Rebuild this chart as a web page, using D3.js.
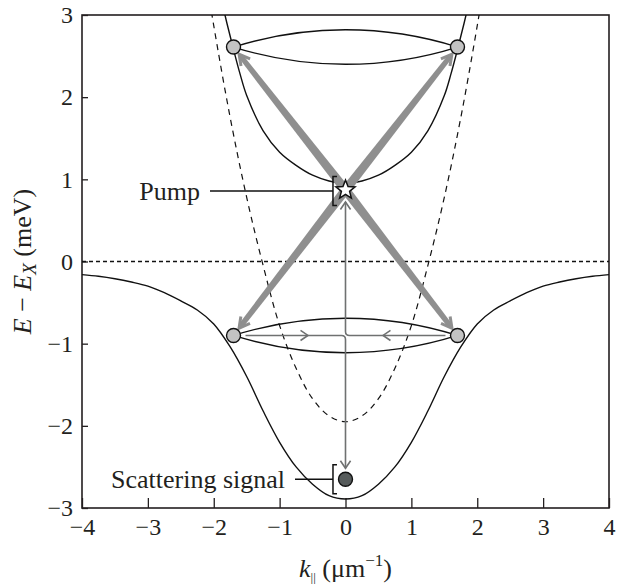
<!DOCTYPE html>
<html>
<head>
<meta charset="utf-8">
<script src="https://cdn.jsdelivr.net/npm/d3@7"></script>
<style>
  body { margin: 0; background: #fff; }
  svg text { font-family: "Liberation Serif", "Times New Roman", serif !important; fill: #231f20; }
</style>
</head>
<body>
<div id="target"></div>
<script>
const kTicks = [-4, -3, -2, -1, 0, 1, 2, 3, 4]
const eTicks = [-3, -2, -1, 0, 1, 2, 3]

// lower polariton branch
const lowerK = [-4, -3.75, -3.5, -3.25, -3, -2.75, -2.5, -2.25, -2, -1.75, -1.5, -1.25, -1, -0.75, -0.5, -0.25, 0,
                0.25, 0.5, 0.75, 1, 1.25, 1.5, 1.75, 2, 2.25, 2.5, 2.75, 3, 3.25, 3.5, 3.75, 4]
const lowerE = [-0.16, -0.18, -0.21, -0.25, -0.30, -0.38, -0.48, -0.59, -0.76, -1.04, -1.40, -1.82, -2.20, -2.50, -2.71, -2.85, -2.89,
                -2.85, -2.71, -2.50, -2.20, -1.82, -1.40, -1.04, -0.76, -0.59, -0.48, -0.38, -0.30, -0.25, -0.21, -0.18, -0.16]

// upper polariton branch
const upperK = [-1.9, -1.8, -1.7, -1.6, -1.5, -1.25, -1, -0.75, -0.5, -0.25, 0, 0.25, 0.5, 0.75, 1, 1.25, 1.5, 1.6, 1.7, 1.8, 1.9]
const upperE = [3.24, 2.90, 2.58, 2.28, 2.02, 1.59, 1.33, 1.17, 1.05, 0.98, 0.95, 0.98, 1.05, 1.17, 1.33, 1.59, 2.02, 2.28, 2.58, 2.90, 3.24]

// bare cavity photon (dashed)
const photonK = [-2.25, -2, -1.75, -1.5, -1.25, -1, -0.75, -0.5, -0.25, 0, 0.25, 0.5, 0.75, 1, 1.25, 1.5, 1.75, 2, 2.25]
const photonE = [4.1, 2.87, 1.75, 0.78, -0.05, -0.78, -1.30, -1.67, -1.88, -1.95, -1.88, -1.67, -1.30, -0.78, -0.05, 0.78, 1.75, 2.87, 4.1]

// exciton level
const excitonE = 0

// scattered pairs: rings and circles on them
const ringE = [2.61, -0.90]
const ringHalfK = 1.70
const ringHalfE = 0.21
const pairK = [-1.70, 1.70, -1.70, 1.70]
const pairE = [2.61, 2.61, -0.90, -0.90]

// pump and signal states
const pumpK = 0, pumpE = 0.87
const signalK = 0, signalE = -2.65
const labels = ["Pump", "Scattering signal"]

const serif = '"Liberation Serif", "Times New Roman", serif'
const width = 618, height = 584
const margin = { top: 15, right: 9, bottom: 76, left: 82 }

const svg = d3.select("#target").append("svg")
    .attr("width", width)
    .attr("height", height)
    .style("font-family", serif)

const x = d3.scaleLinear().domain([-4, 4]).range([margin.left, width - margin.right])
const y = d3.scaleLinear().domain([-3, 3]).range([height - margin.bottom, margin.top])

svg.append("clipPath").attr("id", "plotclip")
    .append("rect")
    .attr("x", x(-4)).attr("y", y(3))
    .attr("width", x(4) - x(-4)).attr("height", y(-3) - y(3))

//Axes
svg.append("g")
    .attr("transform", `translate(0,${y(-3)})`)
    .call(d3.axisBottom(x).tickValues(kTicks).tickFormat(d3.format("d")).tickSize(-10).tickPadding(10))
    .attr("font-family", serif)
    .call(g => g.select(".domain").remove())
    .call(g => g.selectAll("line").attr("stroke", "#231f20").attr("stroke-width", 1.3))
    .call(g => g.selectAll("text").attr("font-size", 24).style("font-family", serif))

svg.append("g")
    .attr("transform", `translate(${x(-4)},0)`)
    .call(d3.axisLeft(y).tickValues(eTicks).tickFormat(d3.format("d")).tickSize(-6).tickPadding(9))
    .attr("font-family", serif)
    .call(g => g.select(".domain").remove())
    .call(g => g.selectAll("line").attr("stroke", "#231f20").attr("stroke-width", 1.3))
    .call(g => g.selectAll("text").attr("font-size", 24).style("font-family", serif))

svg.append("rect")
    .attr("x", x(-4)).attr("y", y(3))
    .attr("width", x(4) - x(-4)).attr("height", y(-3) - y(3))
    .attr("fill", "none")
    .attr("stroke", "#231f20")
    .attr("stroke-width", 1.6)

const plot = svg.append("g").attr("clip-path", "url(#plotclip)")

const line = d3.line()
    .x(d => x(d[0]))
    .y(d => y(d[1]))
    .curve(d3.curveCatmullRom.alpha(0.5))

// exciton level
plot.append("path")
    .attr("d", line([[-4, excitonE], [4, excitonE]]))
    .attr("stroke", "#111").attr("stroke-width", 1.3)
    .attr("stroke-dasharray", "4,3")
    .attr("fill", "none")

plot.append("path")
    .attr("d", line(photonK.map((k, i) => [k, photonE[i]])))
    .attr("stroke", "#111").attr("stroke-width", 1.2)
    .attr("stroke-dasharray", "6,5")
    .attr("fill", "none")

plot.append("path")
    .attr("d", line(lowerK.map((k, i) => [k, lowerE[i]])))
    .attr("stroke", "#111").attr("stroke-width", 1.4)
    .attr("fill", "none")

plot.append("path")
    .attr("d", line(upperK.map((k, i) => [k, upperE[i]])))
    .attr("stroke", "#111").attr("stroke-width", 1.4)
    .attr("fill", "none")

// rings (lens made of two arcs)
ringE.forEach(e => {
    const x0 = x(-ringHalfK), x1 = x(ringHalfK), cy = y(e)
    const half = (x1 - x0) / 2
    const sag = y(0) - y(ringHalfE)
    const r = (half * half + sag * sag) / (2 * sag)
    plot.append("path")
        .attr("d", `M${x0},${cy} A${r},${r} 0 0 1 ${x1},${cy} A${r},${r} 0 0 1 ${x0},${cy}Z`)
        .attr("fill", "none")
        .attr("stroke", "#111")
        .attr("stroke-width", 1.4)
})

// thick grey arrows from pump to the pairs
const thickGrey = "#8f8f8f"
const px = x(pumpK), py = y(pumpE)
pairK.forEach((k, i) => {
    const tx = x(k), ty = y(pairE[i])
    const dx = tx - px, dy = ty - py, L = Math.hypot(dx, dy)
    const ux = dx / L, uy = dy / L, nx = -uy, ny = ux
    const tipX = tx - ux * 9, tipY = ty - uy * 9
    const ex = tipX - ux * 3, ey = tipY - uy * 3
    const w0 = 4.6, w1 = 2.6
    plot.append("path")
        .attr("d", `M${px + nx * w0},${py + ny * w0} L${ex + nx * w1},${ey + ny * w1} L${ex - nx * w1},${ey - ny * w1} L${px - nx * w0},${py - ny * w0}Z`)
        .attr("fill", thickGrey)
    const a = 0.5, hl = 12
    const c = Math.cos(a), s = Math.sin(a)
    const h1x = tipX - hl * (ux * c - uy * s), h1y = tipY - hl * (uy * c + ux * s)
    const h2x = tipX - hl * (ux * c + uy * s), h2y = tipY - hl * (uy * c - ux * s)
    plot.append("path")
        .attr("d", `M${h1x},${h1y} L${tipX},${tipY} L${h2x},${h2y}`)
        .attr("fill", "none")
        .attr("stroke", thickGrey)
        .attr("stroke-width", 3)
        .attr("stroke-linejoin", "miter")
})

// thin grey arrows: pairs -> pump and signal
const thinGrey = "#6f7171"
const cx0 = x(0), ly = y(ringE[1])
const chevron = (tx, ty, ux, uy) => {
    const a = 0.6, hl = 9
    const c = Math.cos(a), s = Math.sin(a)
    return `M${tx - hl * (ux * c - uy * s)},${ty - hl * (uy * c + ux * s)} L${tx},${ty} L${tx - hl * (ux * c + uy * s)},${ty - hl * (uy * c - ux * s)}`
}
const rr = 4
// from right pair to pump
plot.append("path")
    .attr("d", `M${x(pairK[3]) - 12},${ly} H${cx0 + rr} Q${cx0},${ly} ${cx0},${ly - rr} V${py + 12}`)
    .attr("fill", "none").attr("stroke", thinGrey).attr("stroke-width", 1.6)
plot.append("path")
    .attr("d", chevron(cx0, py + 12, 0, -1))
    .attr("fill", "none").attr("stroke", thinGrey).attr("stroke-width", 1.6)
plot.append("path")
    .attr("d", chevron(x(0.57), ly, -1, 0))
    .attr("fill", "none").attr("stroke", thinGrey).attr("stroke-width", 1.6)
// from left pair to signal
const sy = y(signalE)
plot.append("path")
    .attr("d", `M${x(pairK[2]) + 12},${ly} H${cx0 - rr} Q${cx0},${ly} ${cx0},${ly + rr} V${sy - 11}`)
    .attr("fill", "none").attr("stroke", thinGrey).attr("stroke-width", 1.6)
plot.append("path")
    .attr("d", chevron(cx0, sy - 11, 0, 1))
    .attr("fill", "none").attr("stroke", thinGrey).attr("stroke-width", 1.6)
plot.append("path")
    .attr("d", chevron(x(-0.57), ly, 1, 0))
    .attr("fill", "none").attr("stroke", thinGrey).attr("stroke-width", 1.6)

// circles
plot.selectAll("circle.pair")
    .data(pairK.map((k, i) => [k, pairE[i]]))
    .enter()
    .append("circle")
    .attr("class", "pair")
    .attr("cx", d => x(d[0]))
    .attr("cy", d => y(d[1]))
    .attr("r", 7)
    .attr("fill", "#c3c3c3")
    .attr("stroke", "#111")
    .attr("stroke-width", 1.4)

plot.append("circle")
    .attr("cx", x(signalK)).attr("cy", sy)
    .attr("r", 7)
    .attr("fill", "#565b5b")
    .attr("stroke", "#111")
    .attr("stroke-width", 1.4)

// star at pump
const starPts = d3.range(10).map(i => {
    const ang = -Math.PI / 2 + i * Math.PI / 5
    const r = i % 2 === 0 ? 10 : 4.3
    return [px + r * Math.cos(ang), py + r * Math.sin(ang)]
})
plot.append("path")
    .attr("d", "M" + starPts.join("L") + "Z")
    .attr("fill", "#fff")
    .attr("stroke", "#111")
    .attr("stroke-width", 1.5)
    .attr("stroke-linejoin", "miter")

// brackets and labels
const bracketX = x(-0.19)
const annot = [
    { text: labels[0], cy: py + 1, lineFrom: 210, textEnd: 200 },
    { text: labels[1], cy: sy, lineFrom: 295, textEnd: 285 }
]
annot.forEach(a => {
    svg.append("path")
        .attr("d", `M${bracketX + 4},${a.cy - 14.5} H${bracketX} V${a.cy + 14.5} H${bracketX + 4}`)
        .attr("fill", "none").attr("stroke", "#111").attr("stroke-width", 1.5)
    svg.append("line")
        .attr("x1", a.lineFrom).attr("x2", bracketX)
        .attr("y1", a.cy).attr("y2", a.cy)
        .attr("stroke", "#111").attr("stroke-width", 1.3)
    svg.append("text")
        .attr("x", a.textEnd).attr("y", a.cy)
        .attr("dy", "0.33em")
        .attr("text-anchor", "end")
        .attr("font-size", 26)
        .style("font-family", serif)
        .text(a.text)
})

// axis titles
const yTitle = svg.append("text")
    .attr("transform", `translate(22,${y(0)}) rotate(-90)`)
    .attr("text-anchor", "middle")
    .attr("dy", "0.33em")
    .attr("font-size", 26)
    .style("font-family", serif)
yTitle.append("tspan").attr("font-style", "italic").text("E")
yTitle.append("tspan").text(" \u2212 ")
yTitle.append("tspan").attr("font-style", "italic").text("E")
yTitle.append("tspan").attr("font-style", "italic").attr("font-size", 19).attr("dy", 5).text("X")
yTitle.append("tspan").attr("dy", -5).text("  (meV)")

const xTitle = svg.append("text")
    .attr("x", x(0))
    .attr("y", 577)
    .attr("text-anchor", "middle")
    .attr("font-size", 26)
    .style("font-family", serif)
xTitle.append("tspan").attr("font-style", "italic").text("k")
xTitle.append("tspan").attr("font-size", 13).attr("dy", 5).text("||")
xTitle.append("tspan").attr("dy", -5).text("  (\u03bcm")
xTitle.append("tspan").attr("font-size", 17).attr("dy", -11).text("\u22121")
xTitle.append("tspan").attr("dy", 11).text(")")
</script>
</body>
</html>
